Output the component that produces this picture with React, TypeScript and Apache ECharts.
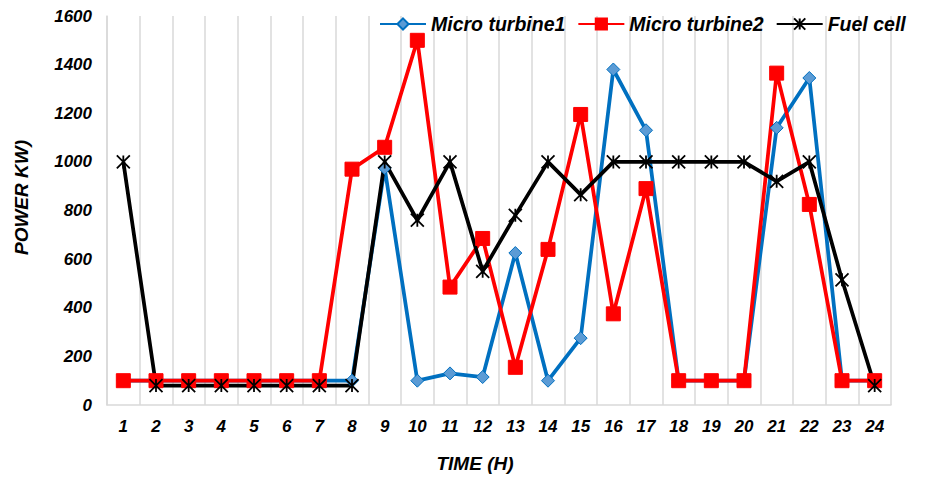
import React, { useEffect, useRef } from "react";
import * as echarts from "echarts";

const hours = ["1","2","3","4","5","6","7","8","9","10","11","12","13","14","15","16","17","18","19","20","21","22","23","24"];
const microTurbine1 = [100,100,100,100,100,100,100,100,975,100,130,115,625,100,275,1380,1130,100,100,100,1140,1345,100,100];
const microTurbine2 = [100,100,100,100,100,100,100,970,1060,1500,485,685,155,640,1195,375,890,100,100,100,1365,825,100,100];
const fuelCell = [1000,80,80,80,80,80,80,80,1000,760,1000,550,780,1000,865,1000,1000,1000,1000,1000,920,1000,515,80];

const FONT = "'Liberation Sans', Arial, sans-serif";
const STAR = "path://M0,0L12,12M12,0L0,12M6,0L6,12";

export default function App() {
  const ref = useRef<HTMLDivElement>(null);
  useEffect(() => {
    document.body.style.margin = "0";
    if (!ref.current) return;
    const chart = echarts.init(ref.current, undefined, { renderer: "svg" });
    const textBase = { fontFamily: FONT, fontWeight: "bold" as const, fontStyle: "italic" as const, color: "#000" };
    chart.setOption({
      animation: false,
      backgroundColor: "#fff",
      grid: { left: 107, right: 40, top: 16, bottom: 77, containLabel: false },
      legend: {
        left: 374,
        top: 9,
        width: 557,
        itemWidth: 46,
        itemHeight: 14,
        itemGap: 12,
        textStyle: { ...textBase, fontSize: 19.5 },
        data: ["Micro turbine1", "Micro turbine2", "Fuel cell"],
      },
      xAxis: {
        type: "category",
        data: hours,
        boundaryGap: true,
        name: "TIME (H)",
        nameLocation: "middle",
        nameGap: 49,
        nameTextStyle: { ...textBase, fontSize: 19, padding: [0, 48, 0, 0] },
        axisLine: { show: true, lineStyle: { color: "#d9d9d9", width: 1.5 } },
        axisTick: { show: false },
        axisLabel: { ...textBase, fontSize: 17, margin: 13 },
        splitLine: { show: true, lineStyle: { color: "#d9d9d9", width: 1.5 } },
      },
      yAxis: {
        type: "value",
        min: 0,
        max: 1600,
        interval: 200,
        name: "POWER KW)",
        nameLocation: "middle",
        nameGap: 76,
        nameRotate: 90,
        nameTextStyle: { ...textBase, fontSize: 19, padding: [0, 0, 0, 26] },
        axisLine: { show: true, lineStyle: { color: "#d9d9d9", width: 1.5 } },
        axisTick: { show: false },
        axisLabel: { ...textBase, fontSize: 17, margin: 15, formatter: (v: number) => String(v) },
        splitLine: { show: false },
      },
      series: [
        {
          name: "Micro turbine1",
          type: "line",
          data: microTurbine1,
          symbol: "diamond",
          symbolSize: 13,
          lineStyle: { color: "#0070C0", width: 3.75 },
          itemStyle: { color: "#5B9BD5", borderColor: "#0070C0", borderWidth: 1 },
        },
        {
          name: "Micro turbine2",
          type: "line",
          data: microTurbine2,
          symbol: "rect",
          symbolSize: 14,
          lineStyle: { color: "#FF0000", width: 3.75 },
          itemStyle: { color: "#FF0000", borderColor: "#FF0000", borderWidth: 1 },
        },
        {
          name: "Fuel cell",
          type: "line",
          data: fuelCell,
          symbol: STAR,
          symbolSize: 13,
          lineStyle: { color: "#000000", width: 3.75 },
          itemStyle: { color: "#000000", borderColor: "#000000", borderWidth: 1.8 },
        },
      ],
    });
    return () => chart.dispose();
  }, []);
  return <div ref={ref} style={{ width: 931, height: 482 }} />;
}
